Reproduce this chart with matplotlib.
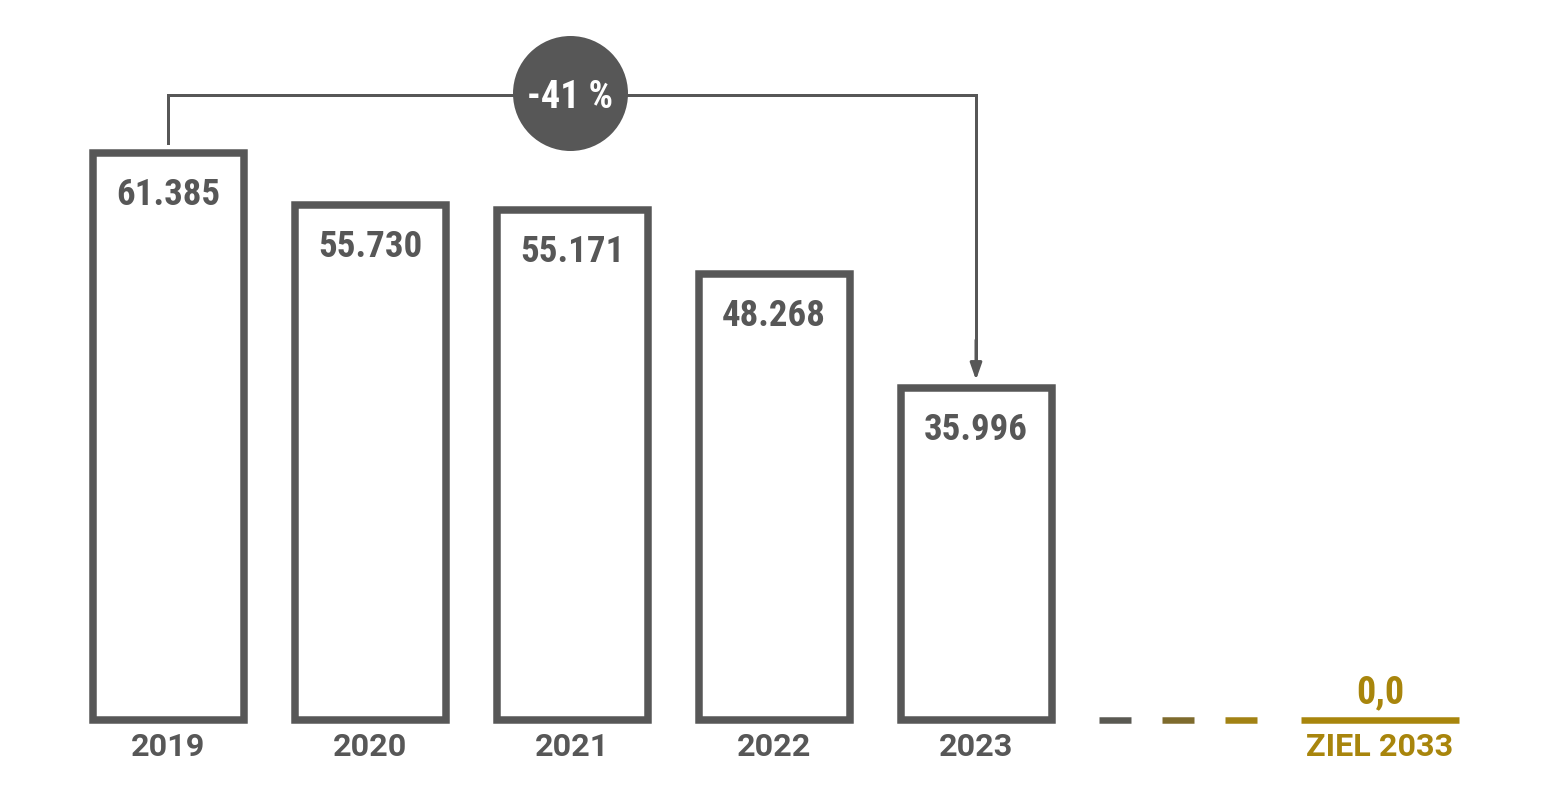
import os
import matplotlib
matplotlib.use("Agg")
import matplotlib.pyplot as plt
from matplotlib import font_manager as fm

years = ["2019", "2020", "2021", "2022", "2023"]
values = [61385, 55730, 55171, 48268, 35996]
value_labels = ["61.385", "55.730", "55.171", "48.268", "35.996"]
target_label = "ZIEL 2033"
target_value = 0.0
target_value_label = "0,0"
change_label = "-41 %"

GREY = "#575757"
GOLD = "#a8850c"
dash_colors = ["#5a5952", "#7e6b2d", "#a28214"]

# ---------- fonts ----------
def find_font():
    prefs = ["LiberationSansNarrow-Bold.", "RobotoCondensed-Bold.", "OpenSansCondensed-Bold.",
             "OpenSans_Condensed-Bold.", "NotoSans-CondensedBold.", "DejaVuSansCondensed-Bold."]
    files = [f.fname for f in fm.fontManager.ttflist]
    for p in prefs:
        for fn in files:
            if os.path.basename(fn).startswith(p):
                return fm.FontProperties(fname=fn)
    for fn in files:
        b = os.path.basename(fn).lower()
        if ("narrow" in b or "condensed" in b) and "bold" in b and "italic" not in b and "oblique" not in b:
            return fm.FontProperties(fname=fn)
    return fm.FontProperties(family="DejaVu Sans", weight="bold", stretch="condensed")

VAL_FP = find_font()
YR_FP = fm.FontProperties(family=["Roboto", "DejaVu Sans"], weight="bold")

W, H = 1554, 800
fig = plt.figure(figsize=(W / 100, H / 100), dpi=100)
ax = fig.add_axes([0, 0, 1, 1])
ax.set_axis_off()
renderer = fig.canvas.get_renderer()

px_per_unit = 0.009237
x0_px, step_px, base_px = 168, 202, 720
ax.set_xlim(-x0_px / step_px, (W - x0_px) / step_px)
ax.set_ylim(-(H - base_px) / px_per_unit, base_px / px_per_unit)

def pt(px):
    return px * 72 / 100

def fitted(t, target_w, target_cap, cap_ratio=0.71):
    """scale font so that the text is about target_w px wide, capped by cap height"""
    t.set_fontsize(pt(40))
    w = t.get_window_extent(renderer).width
    size_px = min(40 * target_w / w, target_cap / cap_ratio)
    t.set_fontsize(pt(size_px))
    return t

def label(txt, x, y, dy_px, color, fp, target_w, target_cap, **kw):
    t = ax.annotate(txt, (x, y), xytext=(0, pt(dy_px)), textcoords="offset points",
                    ha="center", va="baseline", color=color, fontproperties=fp, **kw)
    return fitted(t, target_w, target_cap)

xs = list(range(len(years)))
ax.bar(xs, values, width=151 / step_px, color="white", edgecolor=GREY,
       linewidth=pt(7.5), joinstyle="miter", zorder=2)

for x, v, lab in zip(xs, values, value_labels):
    label(lab, x, v, -52, GREY, VAL_FP, 104, 32, zorder=3)

for x, y in zip(xs, years):
    label(y, x, 0, -36, GREY, YR_FP, 77, 23)

# dashes towards target
tx = len(years) + 1
dash_pos = [len(years) - 0.31, len(years), len(years) + 0.31]
for dx, c in zip(dash_pos, dash_colors):
    ax.plot([dx - 16 / step_px, dx + 16 / step_px], [target_value, target_value], color=c,
            linewidth=pt(6.5), solid_capstyle="butt")
ax.plot([tx - 79 / step_px, tx + 79 / step_px], [target_value] * 2, color=GOLD,
        linewidth=pt(6.5), solid_capstyle="butt")
label(target_value_label, tx, target_value, 17, GOLD, VAL_FP, 48, 30)
label(target_label, tx, target_value, -36, GOLD, YR_FP, 153, 23)

# bracket annotation
top_y = (base_px - 95) / px_per_unit
start_y = (base_px - 143) / px_per_unit
tip_y = (base_px - 380) / px_per_unit
ax.plot([xs[0], xs[0], xs[-1], xs[-1]], [start_y, top_y, top_y, tip_y + 10 / px_per_unit],
        color=GREY, linewidth=pt(3), solid_joinstyle="miter", zorder=1)
ax.annotate("", xy=(xs[-1], tip_y), xytext=(xs[-1], tip_y + 40 / px_per_unit),
            arrowprops=dict(arrowstyle="-|>,head_length=1.0,head_width=0.35",
                            color=GREY, lw=pt(3), shrinkA=0, shrinkB=0))
cx = (570 - x0_px) / step_px
cy = (base_px - 93) / px_per_unit
ax.scatter([cx], [cy], s=pt(115) ** 2, color=GREY, zorder=4, linewidths=0)
label(change_label, cx, cy, -15, "white", VAL_FP, 86, 29, zorder=5)

fig.savefig("out.png", dpi=100, facecolor="white")
